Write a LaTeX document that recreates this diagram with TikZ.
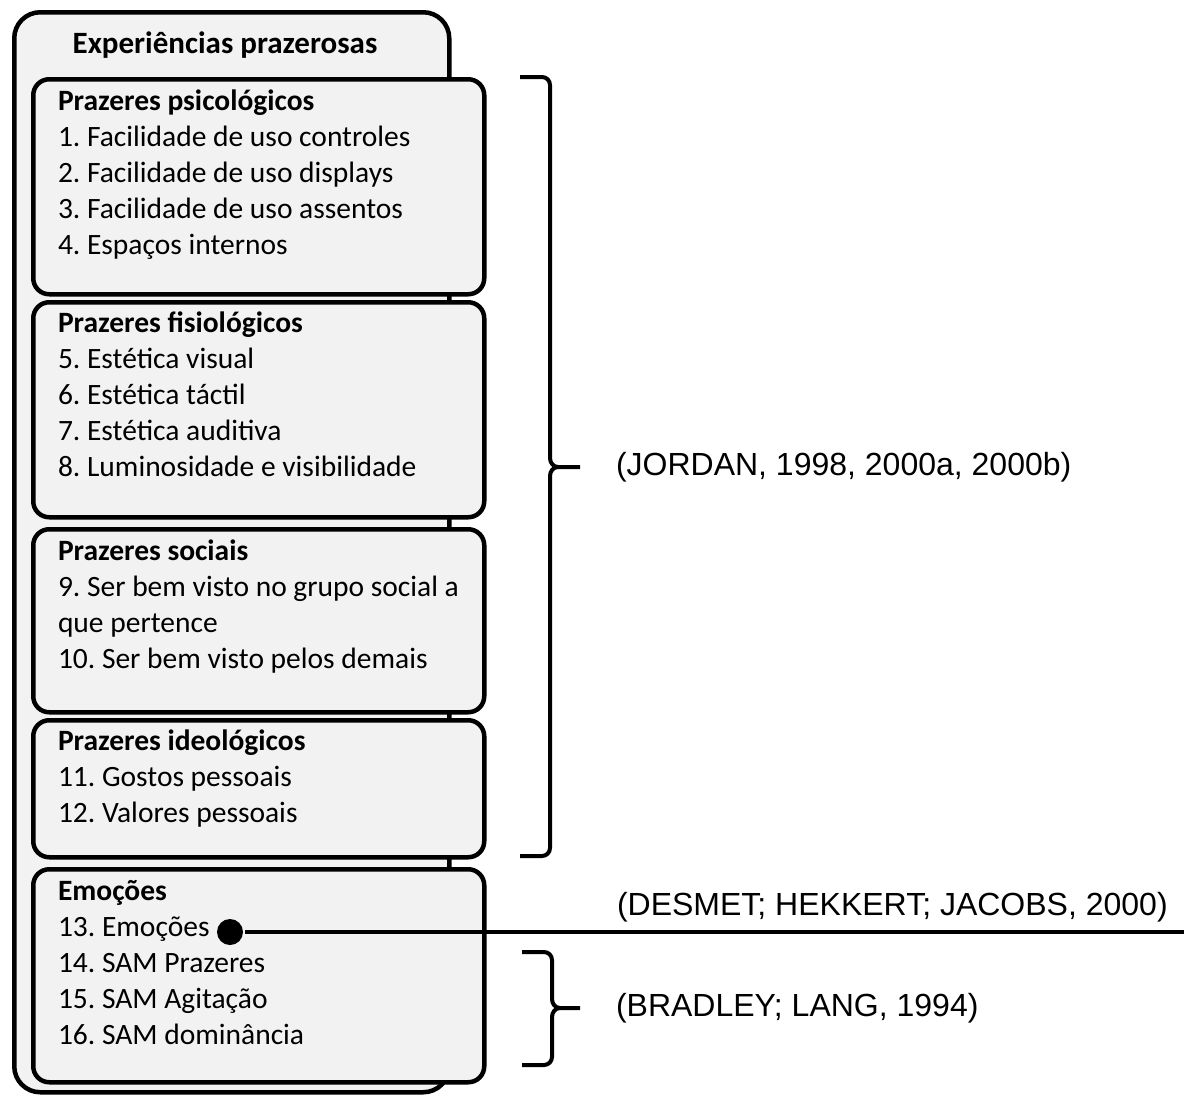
\documentclass[tikz,border=0pt]{standalone}
\usepackage{fontspec}
\setmainfont{Carlito}
\newfontfamily\citefont{Liberation Sans}
\usepackage{tikz}
\usetikzlibrary{positioning}
\definecolor{boxgray}{HTML}{F2F2F2}
\frenchspacing

\begin{document}
\begin{tikzpicture}[
  x=1pt, y=-1pt,
  line width=4pt,
  node distance=34pt,
  outerbox/.style={draw, line width=4.5pt, rounded corners=26pt, fill=boxgray,
                   anchor=north west, inner sep=0pt, minimum width=435pt,
                   minimum height=1080pt},
  groupbox/.style={draw, line width=4.5pt, rounded corners=16pt, fill=boxgray,
                   anchor=north west, inner sep=0pt, minimum width=451pt},
  items/.style={anchor=north west, align=left, inner sep=0pt,
                font=\fontsize{29.5}{36}\selectfont, execute at begin node=\strut},
  cite/.style={inner sep=0pt, font=\citefont\fontsize{32}{38}\selectfont},
  brk/.style={line width=4pt},
  dot/.style={circle, fill, inner sep=0pt, minimum size=26pt}
]
\useasboundingbox (0,0) rectangle (1184,1095);

\node[outerbox] (exp) at (12,10) {};
\node[anchor=base, inner sep=0pt, font=\fontsize{31}{38}\selectfont\bfseries]
  (expTitle) at (225,53) {Experiências prazerosas};

\node[groupbox, minimum height=215pt] (psi) at (31,77) {};
\node[groupbox, minimum height=215pt] (fis) at (31,300) {};
\node[groupbox, minimum height=183pt] (soc) at (31,527) {};
\node[groupbox, minimum height=137pt] (ide) at (31,718) {};
\node[groupbox, minimum height=213pt] (emo) at (31,867) {};

% first baseline 36pt under the top edge, strut is 25.2pt high
\node[items] (psiText) at ([shift={(25,11)}]psi.north west) {\textbf{Prazeres psicológicos}\\
  1. Facilidade de uso controles\\ 2. Facilidade de uso displays\\
  3. Facilidade de uso assentos\\ 4. Espaços internos};
\node[items] (fisText) at ([shift={(25,10)}]fis.north west) {\textbf{Prazeres fisiológicos}\\
  5. Estética visual\\ 6. Estética táctil\\ 7. Estética auditiva\\
  8. Luminosidade e visibilidade};
\node[items] (socText) at ([shift={(25,11)}]soc.north west) {\textbf{Prazeres sociais}\\
  9. Ser bem visto no grupo social a\\ que pertence\\ 10. Ser bem visto pelos demais};
\node[items] (ideText) at ([shift={(25,10)}]ide.north west) {\textbf{Prazeres ideológicos}\\
  11. Gostos pessoais\\ 12. Valores pessoais};
\node[items] (emoText) at ([shift={(25,11)}]emo.north west) {\textbf{Emoções}\\
  13. Emoções\\ 14. SAM Prazeres\\ 15. SAM Agitação\\ 16. SAM dominância};

% brackets
\coordinate (jordanTip) at (580,467);
\coordinate (bradleyTip) at (580,1008);
\draw[brk] (520,77) -- (542,77) to[out=0,in=90] (550,85) -- (550,458)
  to[out=-90,in=180] (558,467) -- (jordanTip);
\draw[brk] (558,467) to[out=180,in=90] (550,476) -- (550,848)
  to[out=-90,in=0] (542,856) -- (520,856);
\draw[brk] (522,952) -- (544,952) to[out=0,in=90] (552,960) -- (552,999)
  to[out=-90,in=180] (560,1008) -- (bradleyTip);
\draw[brk] (560,1008) to[out=180,in=90] (552,1017) -- (552,1057)
  to[out=-90,in=0] (544,1065) -- (522,1065);

\node[cite, right=of jordanTip] (jordan) {(JORDAN, 1998, 2000a, 2000b)};
\node[cite, right=of bradleyTip] (bradley) {(BRADLEY; LANG, 1994)};

% line from 13. Emocoes
\node[dot] (emoDot) at (230,932) {};
\coordinate (lineEnd) at (1184,932);
\draw (emoDot) -- (lineEnd);
\node[cite, anchor=west] (desmet) at (615,907) {(DESMET; HEKKERT; JACOBS, 2000)};
\end{tikzpicture}
\end{document}
